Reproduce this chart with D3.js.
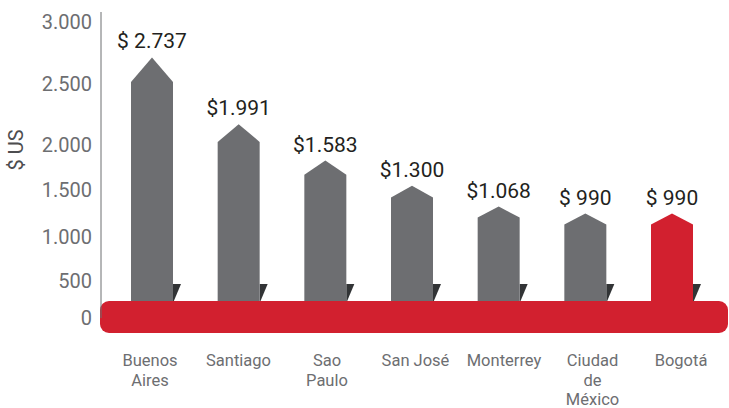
<!DOCTYPE html>
<html lang="es">
<head>
    <meta charset="UTF-8">
    <title>Costo en $ US</title>
    <script src="https://cdn.jsdelivr.net/npm/d3@7/dist/d3.min.js"></script>
    <style>
        body { margin: 0; background: #fff; }
        text { font-family: Roboto, "Noto Sans", sans-serif; }
    </style>
</head>
<body>
<script>
    // datos
    let cities = [['Buenos', 'Aires'], ['Santiago'], ['Sao', 'Paulo'], ['San José'],
        ['Monterrey'], ['Ciudad', 'de', 'México'], ['Bogotá']];
    let values = [2737, 1991, 1583, 1300, 1068, 990, 990];
    let valueLabels = ['$ 2.737', '$1.991', '$1.583', '$1.300', '$1.068', '$ 990', '$ 990'];
    let highlight = 'Bogotá';
    let yTicks = [0, 500, 1000, 1500, 2000, 2500, 3000];
    let yTickLabels = ['0', '500', '1.000', '1.500', '2.000', '2.500', '3.000'];

    let width = 729;
    let height = 408;
    let gray = '#6d6e71';
    let red = '#d2202f';

    let svg = d3.select('body')
        .append('svg')
        .attr('width', width)
        .attr('height', height);

    let names = cities.map(function (c) { return c.join(' '); });

    let x = d3.scalePoint()
        .domain(names)
        .range([152, 672]);

    // los nombres van un poco corridos a la derecha
    let xLabel = d3.scalePoint()
        .domain(names)
        .range([150, 681]);

    // escala de las barras (la punta marca el valor)
    let y = d3.scaleLinear()
        .domain([0, 3000])
        .range([302, 34]);

    // el eje del original no es regular
    let yAxisScale = d3.scaleLinear()
        .domain(yTicks)
        .range([318, 281, 237, 190, 145, 84, 22]);

    let barW = 42;

    // sombras oscuras
    svg.selectAll('path.shadow')
        .data(names)
        .enter()
        .append('path')
        .attr('class', 'shadow')
        .attr('fill', '#323436')
        .attr('d', function (d) {
            let r = x(d) + barW / 2;
            return 'M' + r + ',284 L' + (r + 8) + ',284 L' + r + ',303 Z';
        });

    // barras con punta de flecha
    svg.selectAll('path.bar')
        .data(values)
        .enter()
        .append('path')
        .attr('class', 'bar')
        .attr('fill', function (d, i) { return names[i] === highlight ? red : gray; })
        .attr('d', function (d, i) {
            let cx = x(names[i]);
            let top = y(d);
            let drop = Math.max(11, 0.1 * (y(0) - top));
            let l = cx - barW / 2, r = cx + barW / 2;
            return 'M' + l + ',' + (y(0) + 4) +
                ' L' + l + ',' + (top + drop) +
                ' L' + cx + ',' + top +
                ' L' + r + ',' + (top + drop) +
                ' L' + r + ',' + (y(0) + 4) + ' Z';
        });

    // franja roja
    svg.append('rect')
        .attr('x', 100)
        .attr('y', 301)
        .attr('width', 628)
        .attr('height', 32)
        .attr('rx', 9)
        .attr('fill', red);

    // etiquetas de valor
    svg.selectAll('text.value')
        .data(values)
        .enter()
        .append('text')
        .attr('class', 'value')
        .attr('x', function (d, i) { return x(names[i]); })
        .attr('y', function (d) { return y(d) - 9; })
        .attr('text-anchor', 'middle')
        .attr('font-size', 21)
        .attr('fill', '#231f20')
        .text(function (d, i) { return valueLabels[i]; });

    // eje vertical
    svg.append('line')
        .attr('x1', 101).attr('x2', 101)
        .attr('y1', 12).attr('y2', 318)
        .attr('stroke', gray)
        .attr('stroke-width', 1);

    let axis = d3.axisLeft(yAxisScale)
        .tickValues(yTicks)
        .tickFormat(function (d, i) { return yTickLabels[i]; })
        .tickSize(0)
        .tickPadding(9);

    let gAxis = svg.append('g')
        .attr('transform', 'translate(101,0)')
        .call(axis);
    gAxis.select('.domain').remove();
    gAxis.selectAll('text')
        .attr('font-family', 'Roboto, sans-serif')
        .attr('font-size', 20)
        .attr('fill', gray);

    svg.append('text')
        .attr('transform', 'translate(23,150) rotate(-90)')
        .attr('text-anchor', 'middle')
        .attr('font-size', 20)
        .attr('fill', '#4d4d4f')
        .text('$ US');

    // nombres de ciudades, una linea por texto
    cities.forEach(function (lines, i) {
        svg.selectAll(null)
            .data(lines)
            .enter()
            .append('text')
            .attr('class', 'city')
            .attr('x', xLabel(names[i]))
            .attr('y', function (d, j) { return 366 + j * 19.5; })
            .attr('text-anchor', 'middle')
            .attr('font-size', 16.5)
            .attr('fill', gray)
            .text(function (d) { return d; });
    });
</script>
</body>
</html>
